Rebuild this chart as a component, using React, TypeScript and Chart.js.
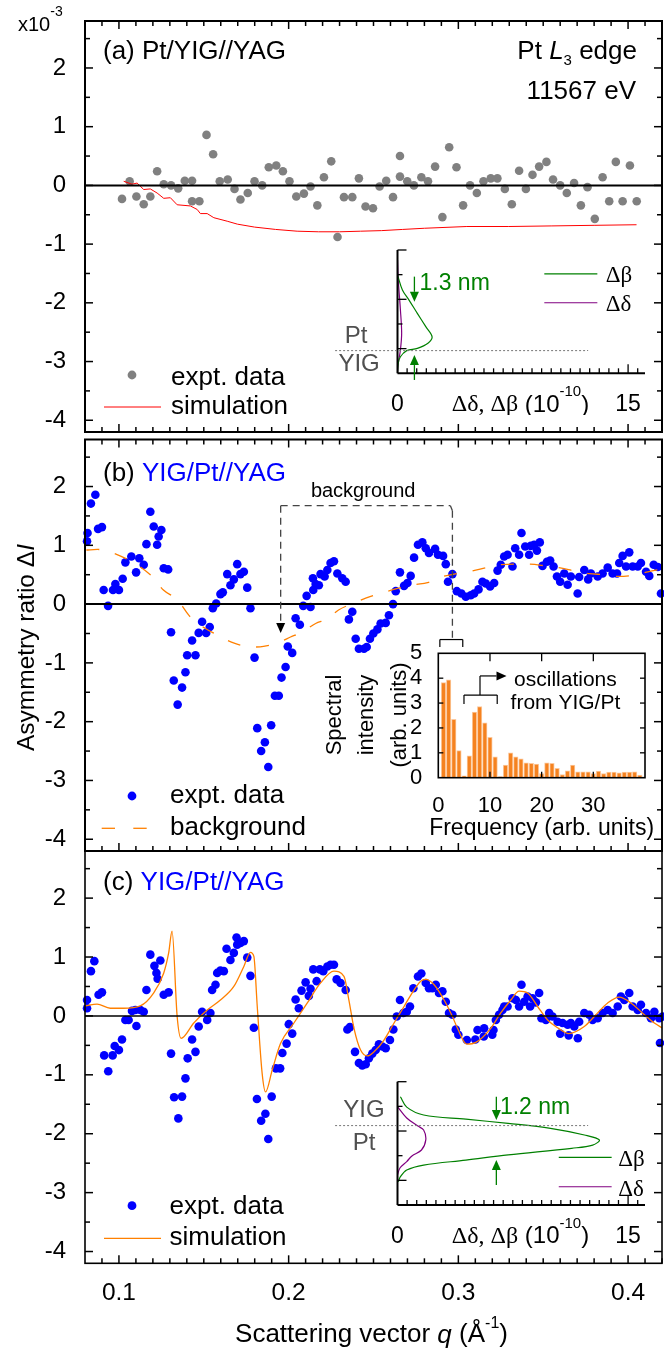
import React, { useEffect, useRef } from 'react';
import { Chart, registerables } from 'chart.js';

Chart.register(...registerables);

type Pt = [number, number];

const FONT = '"Liberation Sans", Arial, Helvetica, sans-serif';
const SERIF = '"Liberation Serif", "Times New Roman", serif';

const BLUE = '#0000ff';
const GREY = '#808080';
const RED = '#ff0000';
const ORANGE = '#ff8000';
const GREEN = '#008000';
const PURPLE = '#800080';
const LABEL_GREY = '#505050';
const BAR_FILL = '#f5821f';
const BAR_EDGE = '#fcc89c';

// ---------- main axes ----------
const Q_MIN = 0.08;
const Q_MAX = 0.42;
const DI_MIN = -4.2;
const DI_MAX = 2.8;
const Y_LABELS = [-4, -3, -2, -1, 0, 1, 2];
const Y_TICKS = [-4, -3.5, -3, -2.5, -2, -1.5, -1, -0.5, 0, 0.5, 1, 1.5, 2, 2.5];
const X_LABELS = [0.1, 0.2, 0.3, 0.4];
const X_TICK_FIRST = 9; // hundredths
const X_TICK_LAST = 42;

// ---------- (a) Pt/YIG//YAG (x10^-3) ----------
const A_EXPT: Pt[] = [
  [0.1018, -0.23], [0.1063, 0.07], [0.1103, -0.19], [0.1146, -0.32], [0.1185, -0.19], [0.1225, 0.24],
  [0.1264, 0.02], [0.1307, 0.0], [0.1349, -0.05], [0.1388, 0.08], [0.1431, 0.08], [0.1431, -0.27],
  [0.1474, -0.27], [0.1516, 0.86], [0.1555, 0.53], [0.1594, 0.07], [0.1641, 0.1], [0.1681, -0.06],
  [0.1716, -0.24], [0.1759, -0.13], [0.1799, 0.07], [0.1844, 0.0], [0.1883, 0.31], [0.1927, 0.34],
  [0.1966, 0.24], [0.2005, 0.07], [0.2045, -0.19], [0.209, -0.14], [0.2129, -0.02], [0.2169, -0.34],
  [0.2208, 0.14], [0.2251, 0.41], [0.2288, -0.88], [0.2326, -0.2], [0.2375, -0.2], [0.2414, 0.12],
  [0.2453, -0.36], [0.2497, -0.39], [0.2536, -0.02], [0.2575, 0.08], [0.2615, -0.2], [0.2656, 0.5],
  [0.2656, 0.15], [0.2699, 0.07], [0.2738, 0.0], [0.2782, 0.14], [0.2821, 0.07], [0.2863, 0.32],
  [0.2906, -0.54], [0.2946, 0.65], [0.2989, 0.31], [0.3028, -0.34], [0.3069, 0.0], [0.3109, -0.13],
  [0.3148, 0.07], [0.3191, 0.12], [0.323, 0.12], [0.3274, -0.06], [0.3315, -0.32], [0.3358, 0.25],
  [0.3398, -0.06], [0.3437, 0.18], [0.3476, 0.32], [0.3519, 0.4], [0.3558, 0.1], [0.36, 0.0],
  [0.3639, -0.13], [0.3682, 0.04], [0.3722, -0.34], [0.3761, -0.03], [0.3804, -0.57], [0.385, 0.14],
  [0.3889, -0.27], [0.3928, 0.4], [0.3968, -0.27], [0.4011, 0.34], [0.4051, -0.27],
];
const A_SIM: Pt[] = [
  [0.1028, 0.07], [0.1077, 0.02], [0.1107, 0.04], [0.1146, -0.07], [0.1185, -0.06], [0.1225, -0.13],
  [0.1264, -0.22], [0.1303, -0.21], [0.1343, -0.33], [0.1421, -0.35], [0.1461, -0.41], [0.148, -0.48],
  [0.152, -0.48], [0.1559, -0.55], [0.1638, -0.61], [0.1698, -0.66], [0.1799, -0.71], [0.1923, -0.75],
  [0.205, -0.78], [0.2176, -0.79], [0.23, -0.79], [0.2424, -0.78], [0.2548, -0.77], [0.2672, -0.75],
  [0.28, -0.73], [0.305, -0.7], [0.3297, -0.7], [0.3551, -0.69], [0.38, -0.68], [0.405, -0.67],
];

// ---------- (b) YIG/Pt//YAG ----------
const B_EXPT: Pt[] = [
  [0.0812, 1.07], [0.0815, 1.21], [0.0835, 1.71], [0.0861, 1.86], [0.0877, 1.28], [0.09, 1.31],
  [0.091, 0.24], [0.0936, -0.03], [0.0965, 0.24], [0.0979, 0.34], [0.1, 0.24], [0.1022, 0.43],
  [0.1038, 0.71], [0.1073, 0.81], [0.1101, 0.54], [0.112, 0.78], [0.1146, 0.67], [0.1162, 1.02],
  [0.1185, 1.57], [0.1205, 1.32], [0.1225, 1.01], [0.1234, 1.15], [0.125, 1.26], [0.1264, 0.61],
  [0.129, 0.59], [0.1307, -0.48], [0.1323, -1.3], [0.1346, -1.71], [0.1372, -1.42], [0.1392, -1.16],
  [0.1402, -0.87], [0.1431, -0.62], [0.1451, -0.87], [0.147, -0.49], [0.149, -0.3], [0.1514, -0.49],
  [0.1535, -0.39], [0.1553, -0.07], [0.1573, 0.01], [0.1598, 0.17], [0.1612, 0.2], [0.1638, 0.51],
  [0.1657, 0.32], [0.1677, 0.42], [0.1697, 0.68], [0.1716, 0.51], [0.1736, 0.55], [0.1756, 0.28],
  [0.1775, -0.07], [0.1799, -0.91], [0.1815, -2.11], [0.1838, -2.5], [0.186, -2.35], [0.188, -2.77],
  [0.1897, -2.06], [0.1919, -1.56], [0.1942, -1.56], [0.1958, -1.25], [0.1982, -1.07], [0.1995, -0.72],
  [0.2021, -0.83], [0.2041, -0.24], [0.2066, -0.35], [0.2086, -0.03], [0.2106, 0.14], [0.2129, -0.05],
  [0.2143, 0.44], [0.2145, 0.24], [0.2159, 0.34], [0.2178, 0.32], [0.2188, 0.51], [0.2212, 0.47],
  [0.2228, 0.58], [0.2247, 0.7], [0.2267, 0.73], [0.2287, 0.52], [0.2316, 0.44], [0.2336, 0.38],
  [0.2355, -0.26], [0.2375, -0.13], [0.2395, -0.59], [0.2414, -0.76], [0.2444, -0.76], [0.246, -0.73],
  [0.2479, -0.59], [0.2499, -0.5], [0.2523, -0.43], [0.2542, -0.33], [0.2572, -0.32], [0.2591, -0.19],
  [0.2615, 0.0], [0.2631, 0.22], [0.2656, 0.54], [0.268, 0.31], [0.27, 0.36], [0.2719, 0.48],
  [0.2739, 0.79], [0.2762, 1.01], [0.2788, 1.05], [0.2808, 0.95], [0.2827, 0.87], [0.2863, 0.94],
  [0.288, 0.84], [0.291, 0.82], [0.2926, 0.68], [0.2939, 0.38], [0.2965, 0.51], [0.2991, 0.22],
  [0.3018, 0.18], [0.3044, 0.125], [0.3073, 0.15], [0.3093, 0.18], [0.3119, 0.25], [0.3142, 0.38],
  [0.3162, 0.35], [0.3187, 0.3], [0.3211, 0.36], [0.3231, 0.57], [0.325, 0.67], [0.327, 0.81],
  [0.329, 0.84], [0.3319, 0.64], [0.3335, 0.95], [0.3358, 0.84], [0.3372, 1.21], [0.3394, 0.98],
  [0.3417, 0.84], [0.3427, 0.99], [0.3447, 1.01], [0.3463, 0.91], [0.348, 1.05], [0.3496, 0.65],
  [0.3522, 0.72], [0.3541, 0.74], [0.3561, 0.64], [0.3581, 0.47], [0.36, 0.38], [0.3624, 0.52],
  [0.3644, 0.33], [0.3663, 0.47], [0.3703, 0.18], [0.3712, 0.46], [0.3742, 0.58], [0.3765, 0.42],
  [0.3781, 0.52], [0.3821, 0.47], [0.385, 0.52], [0.388, 0.62], [0.3909, 0.52], [0.3935, 0.52],
  [0.3948, 0.7], [0.3968, 0.82], [0.3988, 0.64], [0.4007, 0.88], [0.4027, 0.64], [0.4057, 0.64],
  [0.4076, 0.7], [0.4106, 0.55], [0.4125, 0.48], [0.4151, 0.67], [0.4175, 0.63], [0.4194, 0.18],
];
const B_BACKGROUND: Pt[] = [
  [0.0808, 0.92], [0.0873, 0.93], [0.0967, 0.87], [0.1185, 0.5], [0.1262, 0.24], [0.1345, 0.07],
  [0.1421, -0.22], [0.1581, -0.53], [0.1675, -0.66], [0.1793, -0.73], [0.1852, -0.72], [0.1952, -0.64],
  [0.2011, -0.56], [0.2082, -0.47], [0.2159, -0.33], [0.2229, -0.25], [0.2294, -0.1], [0.2377, 0.01],
  [0.2454, 0.1], [0.256, 0.2], [0.2648, 0.27], [0.2719, 0.32], [0.2825, 0.37], [0.2908, 0.47],
  [0.2996, 0.52], [0.3073, 0.56], [0.3162, 0.62], [0.3239, 0.67], [0.3339, 0.68], [0.3415, 0.68],
  [0.3516, 0.65], [0.3592, 0.62], [0.3692, 0.56], [0.3769, 0.52], [0.3857, 0.5], [0.3946, 0.47],
  [0.4046, 0.5], [0.4117, 0.55], [0.4205, 0.6],
];

// ---------- (c) YIG/Pt//YAG ----------
const C_EXPT: Pt[] = [
  [0.0812, 0.27], [0.0812, 0.13], [0.0835, 0.76], [0.0855, 0.93], [0.088, 0.36], [0.09, 0.4],
  [0.0913, -0.67], [0.0937, -0.94], [0.0963, -0.67], [0.0975, -0.51], [0.1, -0.58], [0.1018, -0.4],
  [0.1038, -0.07], [0.1057, -0.07], [0.1077, 0.085], [0.1097, 0.1], [0.1103, -0.17], [0.1126, 0.1],
  [0.1146, 0.07], [0.1162, 0.44], [0.1185, 1.04], [0.1209, 0.85], [0.1221, 0.73], [0.1228, 0.63],
  [0.1244, 0.94], [0.1264, 0.36], [0.1293, 0.4], [0.1307, -0.64], [0.1325, -1.38], [0.135, -1.74],
  [0.1372, -1.37], [0.1392, -1.06], [0.1405, -0.72], [0.1431, -0.4], [0.1451, -0.61], [0.147, -0.18],
  [0.149, 0.07], [0.152, -0.07], [0.1539, 0.05], [0.1549, 0.44], [0.1569, 0.53], [0.1579, 0.73],
  [0.1598, 0.77], [0.1618, 0.76], [0.1634, 1.14], [0.1657, 0.95], [0.1677, 1.07], [0.1693, 1.33],
  [0.1697, 1.21], [0.1716, 1.24], [0.1736, 1.27], [0.1756, 0.99], [0.1775, 0.68], [0.1795, -0.2],
  [0.1813, -1.41], [0.1838, -1.78], [0.1863, -1.66], [0.188, -2.09], [0.19, -1.37], [0.1925, -0.89],
  [0.195, -0.89], [0.1963, -0.63], [0.1988, -0.47], [0.2001, -0.14], [0.2021, -0.3], [0.2041, 0.28],
  [0.206, 0.13], [0.2076, 0.43], [0.21, 0.57], [0.2119, 0.34], [0.2129, 0.46], [0.2145, 0.79],
  [0.2165, 0.59], [0.2184, 0.79], [0.2204, 0.76], [0.2228, 0.84], [0.2247, 0.87], [0.2267, 0.87],
  [0.2283, 0.62], [0.2306, 0.56], [0.2336, 0.44], [0.2346, -0.23], [0.2361, -0.19], [0.2391, -0.61],
  [0.2414, -0.8], [0.2434, -0.84], [0.2454, -0.82], [0.2473, -0.72], [0.2493, -0.64], [0.2513, -0.58],
  [0.2532, -0.48], [0.2552, -0.52], [0.2572, -0.55], [0.2597, -0.41], [0.2617, -0.23], [0.2637, -0.01],
  [0.2656, 0.27], [0.2676, 0.05], [0.2696, 0.07], [0.2715, 0.16], [0.2735, 0.47], [0.2762, 0.67],
  [0.2782, 0.72], [0.2808, 0.56], [0.2827, 0.47], [0.2847, 0.47], [0.2867, 0.53], [0.2886, 0.39],
  [0.2906, 0.42], [0.2926, 0.24], [0.2945, 0.05], [0.2965, 0.02], [0.2985, -0.23], [0.3, -0.32],
  [0.305, -0.41], [0.31, -0.4], [0.3113, -0.24], [0.315, -0.35], [0.3152, -0.21], [0.32, -0.32],
  [0.3207, -0.24], [0.3221, -0.07], [0.324, 0.02], [0.326, 0.1], [0.327, 0.16], [0.329, 0.16],
  [0.3319, 0.3], [0.3339, 0.27], [0.3358, 0.16], [0.3372, 0.53], [0.3388, 0.24], [0.3408, 0.33],
  [0.3423, 0.16], [0.3437, 0.3], [0.3457, 0.23], [0.3476, 0.39], [0.349, -0.04], [0.3516, -0.07],
  [0.3535, 0.05], [0.3555, -0.01], [0.3585, -0.1], [0.36, -0.3], [0.3614, -0.12], [0.3644, -0.15],
  [0.365, -0.33], [0.3663, -0.12], [0.3683, -0.18], [0.3704, -0.38], [0.3712, -0.1], [0.3742, 0.05],
  [0.3771, 0.02], [0.3791, -0.07], [0.3821, -0.04], [0.385, 0.05], [0.388, 0.1], [0.3909, 0.05],
  [0.3939, 0.16], [0.3958, 0.33], [0.3978, 0.27], [0.4007, 0.39], [0.4027, 0.16], [0.4057, 0.1],
  [0.4076, 0.19], [0.4106, 0.05], [0.4135, -0.04], [0.4155, 0.07], [0.4184, -0.04], [0.4188, -0.46],
  [0.4204, -0.01],
];
const C_SIM: Pt[] = [
  [0.0802, 0.17], [0.0871, 0.2], [0.0949, 0.13], [0.1028, 0.13], [0.1126, 0.17], [0.1205, 0.39],
  [0.1264, 0.73], [0.1293, 1.07], [0.1313, 1.44], [0.1343, -0.01], [0.1366, -0.38], [0.1441, -0.12],
  [0.152, 0.1], [0.1598, 0.27], [0.1677, 0.5], [0.1736, 0.84], [0.1775, 1.08], [0.1795, 1.01],
  [0.1815, 0.16], [0.1844, -0.98], [0.1864, -1.29], [0.1903, -0.92], [0.1952, -0.47], [0.2031, -0.12],
  [0.211, 0.22], [0.2188, 0.56], [0.2267, 0.76], [0.2326, 0.67], [0.2355, 0.27], [0.2385, -0.21],
  [0.2424, -0.58], [0.2464, -0.68], [0.2503, -0.61], [0.2562, -0.41], [0.2621, -0.12], [0.268, 0.16],
  [0.2719, 0.35], [0.2778, 0.59], [0.2808, 0.62], [0.2857, 0.53], [0.2916, 0.27], [0.2965, -0.01],
  [0.2995, -0.21], [0.305, -0.48], [0.3103, -0.45], [0.3191, -0.21], [0.325, 0.05], [0.3309, 0.27],
  [0.3358, 0.42], [0.3408, 0.39], [0.3467, 0.16], [0.3526, -0.07], [0.3585, -0.2], [0.365, -0.3],
  [0.3742, -0.18], [0.3801, -0.01], [0.388, 0.22], [0.3948, 0.32], [0.4017, 0.22], [0.4096, 0.02],
  [0.4155, -0.12], [0.4205, -0.21],
];

// ---------- inset (b): spectrum ----------
const FREQ = [1, 2, 3, 4, 5, 6, 7, 8, 9, 10, 11, 12, 13, 14, 15, 16, 17, 18, 19, 20, 21, 22, 23, 24, 25, 26, 27, 28, 29, 30, 31, 32, 33, 34, 35, 36, 37, 38, 39];
const SPECTRUM = [3.82, 3.93, 2.35, 1.09, 0.08, 0.88, 2.64, 2.86, 2.21, 1.62, 0.84, 0.04, 0.51, 1.0, 0.84, 0.76, 0.6, 0.58, 0.55, 0.17, 0.6, 0.58, 0.38, 0.13, 0.28, 0.51, 0.24, 0.24, 0.24, 0.17, 0.27, 0.17, 0.23, 0.23, 0.2, 0.23, 0.23, 0.24, 0.11];
const FREQ_MAX = 40;
const FREQ_LABELS = [0, 10, 20, 30];
const SPEC_MAX = 5;
const SPEC_LABELS = [0, 1, 2, 3, 4, 5];

// ---------- insets (a), (c): depth profiles (x: Δδ,Δβ in 1e-10; y: depth) ----------
const PROF_X_MAX = 16.1;
const PROF_X_LABELS = [0, 15];
const PROF_X_STEP = 0.625;
const PROF_Y_MAX = 5;
const A_BETA: Pt[] = [
  [0, 3.99], [0.32, 3.38], [0.75, 2.97], [1.29, 2.43], [1.84, 1.89], [2.25, 1.48], [1.98, 1.22],
  [1.29, 1.01], [0.6, 0.92], [0.19, 0.67], [0.05, 0.41], [0, 0],
];
const A_DELTA: Pt[] = [
  [0, 4.6], [0.05, 3.78], [0.19, 2.57], [0.27, 1.62], [0.19, 0.95], [0.05, 0.41], [0, 0],
];
const C_BETA: Pt[] = [
  [0.19, 4.39], [0.6, 3.97], [1.7, 3.65], [4.45, 3.48], [7.2, 3.31], [9.95, 3.11], [12.16, 2.84],
  [13.13, 2.64], [12.7, 2.43], [11.33, 2.3], [7.2, 2.03], [4.45, 1.82], [1.7, 1.62], [0.6, 1.42],
  [0.19, 1.15], [0.05, 0.94],
];
const C_DELTA: Pt[] = [
  [0, 3.99], [0.6, 3.53], [1.33, 3.2], [1.7, 3.04], [1.84, 2.64], [1.56, 2.23], [0.94, 1.99],
  [0.6, 1.76], [0.16, 1.5], [0, 1.22],
];

// ---------------- helpers ----------------
const toXY = (arr: Pt[]) => arr.map(([x, y]) => ({ x, y }));
const font = (size: number, italic = false, family = FONT) => `${italic ? 'italic ' : ''}${size}px ${family}`;

type Run = { t: string; c?: string; i?: boolean; s?: number; dy?: number; f?: string };

function runs(ctx: CanvasRenderingContext2D, parts: Run[], x: number, y: number, size: number, align: 'left' | 'right' | 'center' = 'left', color = '#000') {
  ctx.save();
  ctx.textBaseline = 'middle';
  ctx.textAlign = 'left';
  const ws = parts.map((p) => {
    ctx.font = font(p.s ?? size, p.i, p.f);
    return ctx.measureText(p.t).width;
  });
  const total = ws.reduce((a, b) => a + b, 0);
  let cx = align === 'left' ? x : align === 'right' ? x - total : x - total / 2;
  parts.forEach((p, k) => {
    ctx.font = font(p.s ?? size, p.i, p.f);
    ctx.fillStyle = p.c ?? color;
    ctx.fillText(p.t, cx, y + (p.dy ?? 0));
    cx += ws[k];
  });
  ctx.restore();
}

function seg(ctx: CanvasRenderingContext2D, x1: number, y1: number, x2: number, y2: number) {
  ctx.beginPath();
  ctx.moveTo(x1, y1);
  ctx.lineTo(x2, y2);
  ctx.stroke();
}

function vArrow(ctx: CanvasRenderingContext2D, x: number, yFrom: number, yTip: number, color: string) {
  const dir = Math.sign(yTip - yFrom);
  const hl = 10;
  const hw = 4.5;
  ctx.save();
  ctx.strokeStyle = color;
  ctx.fillStyle = color;
  ctx.lineWidth = 1.3;
  seg(ctx, x, yFrom, x, yTip - dir * hl);
  ctx.beginPath();
  ctx.moveTo(x, yTip);
  ctx.lineTo(x - hw, yTip - dir * hl);
  ctx.lineTo(x + hw, yTip - dir * hl);
  ctx.closePath();
  ctx.fill();
  ctx.restore();
}

function hArrow(ctx: CanvasRenderingContext2D, xFrom: number, xTip: number, y: number, color: string) {
  const hl = 10;
  const hw = 4.5;
  ctx.save();
  ctx.strokeStyle = color;
  ctx.fillStyle = color;
  ctx.lineWidth = 1.2;
  seg(ctx, xFrom, y, xTip - hl, y);
  ctx.beginPath();
  ctx.moveTo(xTip, y);
  ctx.lineTo(xTip - hl, y - hw);
  ctx.lineTo(xTip - hl, y + hw);
  ctx.closePath();
  ctx.fill();
  ctx.restore();
}

function mainFrame(chart: any, o: { top: boolean; bottom: boolean; lw: number; zlw: number }) {
  const { ctx, chartArea: ca } = chart;
  const xs = chart.scales.x;
  const ys = chart.scales.y;
  ctx.save();
  ctx.strokeStyle = '#000';
  ctx.lineWidth = o.zlw;
  const z = ys.getPixelForValue(0);
  seg(ctx, ca.left, z, ca.right, z);
  ctx.lineWidth = 1.5;
  Y_TICKS.forEach((v) => {
    const p = ys.getPixelForValue(v);
    const len = Number.isInteger(v) ? 8 : 5;
    seg(ctx, ca.left, p, ca.left + len, p);
    seg(ctx, ca.right, p, ca.right - len, p);
  });
  for (let k = X_TICK_FIRST; k <= X_TICK_LAST; k++) {
    const p = xs.getPixelForValue(k / 100);
    const len = k % 10 === 0 ? 8 : 5;
    if (o.top) seg(ctx, p, ca.top, p, ca.top + len);
    if (o.bottom) seg(ctx, p, ca.bottom, p, ca.bottom - len);
  }
  ctx.lineWidth = o.lw;
  ctx.strokeRect(ca.left, ca.top, ca.right - ca.left, ca.bottom - ca.top);
  ctx.restore();
}

function legendDot(ctx: CanvasRenderingContext2D, x: number, y: number, color: string) {
  ctx.save();
  ctx.fillStyle = color;
  ctx.beginPath();
  ctx.arc(x, y, 4.4, 0, Math.PI * 2);
  ctx.fill();
  ctx.restore();
}

function legendLine(ctx: CanvasRenderingContext2D, x1: number, x2: number, y: number, color: string, width: number, dash: number[] = []) {
  ctx.save();
  ctx.strokeStyle = color;
  ctx.lineWidth = width;
  ctx.setLineDash(dash);
  seg(ctx, x1, y, x2, y);
  ctx.restore();
}

function profileFrame(chart: any) {
  const { ctx, chartArea: ca } = chart;
  const xs = chart.scales.x;
  const ys = chart.scales.y;
  ctx.save();
  ctx.strokeStyle = '#000';
  ctx.lineWidth = 1.3;
  for (let v = 1; v <= PROF_Y_MAX; v++) {
    const p = ys.getPixelForValue(v);
    seg(ctx, ca.left, p, ca.left + (v % 2 === 1 ? 9 : 5), p);
  }
  for (let k = 1; k * PROF_X_STEP <= PROF_X_MAX; k++) {
    const v = k * PROF_X_STEP;
    const p = xs.getPixelForValue(v);
    const major = PROF_X_LABELS.some((l) => l > 0 && Math.abs(l - v) < 1e-6);
    seg(ctx, p, ca.bottom, p, ca.bottom - (major ? 9 : 5));
  }
  ctx.lineWidth = 2;
  seg(ctx, ca.left, ca.top, ca.left, ca.bottom);
  seg(ctx, ca.left, ca.bottom, ca.right, ca.bottom);
  ctx.restore();
}

// ---------------- configs ----------------
const baseOptions = {
  animation: false,
  responsive: false,
  devicePixelRatio: 1,
  events: [],
  plugins: { legend: { display: false }, tooltip: { enabled: false } },
};

function mainConfig(datasets: any[], pad: { top: number; bottom: number }, xAxis: boolean, draw: (c: any) => void): any {
  return {
    type: 'scatter',
    data: { datasets },
    options: {
      ...baseOptions,
      layout: { autoPadding: false, padding: { left: 0, right: 2, top: pad.top, bottom: pad.bottom } },
      scales: {
        x: {
          type: 'linear',
          min: Q_MIN,
          max: Q_MAX,
          display: xAxis,
          afterFit: (s: any) => {
            if (xAxis) { s.height = 87.7; s.paddingLeft = 0; s.paddingRight = 0; }
          },
          afterBuildTicks: (s: any) => { s.ticks = X_LABELS.map((v) => ({ value: v })); },
          ticks: {
            autoSkip: false, maxRotation: 0, minRotation: 0, padding: 7.3, color: '#000',
            font: { family: FONT, size: 24.5 },
            callback: (v: any) => Number(v).toFixed(1),
          },
          grid: { display: false },
          border: { display: false },
        },
        y: {
          type: 'linear',
          min: DI_MIN,
          max: DI_MAX,
          afterFit: (s: any) => { s.width = 85; s.paddingTop = 0; s.paddingBottom = 0; },
          afterBuildTicks: (s: any) => { s.ticks = Y_LABELS.map((v) => ({ value: v })); },
          ticks: {
            autoSkip: false, padding: 11, color: '#000',
            font: { family: FONT, size: 24 },
            callback: (v: any) => String(v),
          },
          grid: { display: false },
          border: { display: false },
        },
      },
    },
    plugins: [{ id: 'deco', afterDraw: draw }],
  };
}

const dotSet = (data: Pt[], color: string) => ({
  data: toXY(data), backgroundColor: color, borderWidth: 0, pointRadius: 4.3, pointHoverRadius: 4.3, showLine: false, clip: false,
});
const lineSet = (data: Pt[], color: string, width: number, extra: any = {}) => ({
  data: toXY(data), borderColor: color, borderWidth: width, pointRadius: 0, showLine: true, fill: false, ...extra,
});

function profileConfig(datasets: any[], padTop: number, xAxisHeight: number, draw: (c: any) => void): any {
  return {
    type: 'scatter',
    data: { datasets },
    options: {
      ...baseOptions,
      layout: { autoPadding: false, padding: { left: 77.5, right: 19, top: padTop, bottom: 0 } },
      scales: {
        x: {
          type: 'linear', min: 0, max: PROF_X_MAX,
          afterFit: (s: any) => { s.height = xAxisHeight; s.paddingLeft = 0; s.paddingRight = 0; },
          afterBuildTicks: (s: any) => { s.ticks = PROF_X_LABELS.map((v) => ({ value: v })); },
          ticks: { autoSkip: false, maxRotation: 0, minRotation: 0, padding: 9.5, color: '#000', font: { family: FONT, size: 23 } },
          grid: { display: false },
          border: { display: false },
        },
        y: { type: 'linear', min: 0, max: PROF_Y_MAX, display: false },
      },
    },
    plugins: [{ id: 'deco', afterDraw: draw }],
  };
}

// ---------------- decorations ----------------
function drawA(chart: any) {
  const { ctx, chartArea: ca } = chart;
  mainFrame(chart, { top: true, bottom: true, lw: 2, zlw: 2 });
  runs(ctx, [{ t: '(a) Pt/YIG//YAG' }], ca.left + 18, ca.top + 31, 26);
  runs(ctx, [{ t: 'Pt ' }, { t: 'L', i: true }, { t: '3', s: 15, dy: 9 }, { t: ' edge' }], ca.right - 25, ca.top + 31, 26, 'right');
  runs(ctx, [{ t: '11567 eV' }], ca.right - 26, ca.top + 71, 26, 'right');
  runs(ctx, [{ t: 'x10', s: 20 }, { t: '-3', s: 14, dy: -13 }], 18, 25, 20);
  legendDot(ctx, 132, ca.bottom - 57, GREY);
  runs(ctx, [{ t: 'expt. data' }], 171, ca.bottom - 54, 26);
  legendLine(ctx, 104, 161, ca.bottom - 25, RED, 1);
  runs(ctx, [{ t: 'simulation' }], 171, ca.bottom - 25, 26);
}

function drawB(chart: any) {
  const { ctx, chartArea: ca } = chart;
  const xs = chart.scales.x;
  const ys = chart.scales.y;
  const X = (v: number) => xs.getPixelForValue(v);
  const Y = (v: number) => ys.getPixelForValue(v);
  mainFrame(chart, { top: true, bottom: true, lw: 2, zlw: 2 });
  runs(ctx, [{ t: '(b) ' }, { t: 'YIG/Pt//YAG', c: BLUE }], ca.left + 18, ca.top + 34, 26);

  // y-axis title
  ctx.save();
  ctx.translate(27, ca.top + 208);
  ctx.rotate(-Math.PI / 2);
  runs(ctx, [{ t: 'Asymmetry ratio Δ' }, { t: 'I', i: true }], 0, 0, 24.5, 'center');
  ctx.restore();

  // "background" dashed box
  ctx.save();
  ctx.strokeStyle = '#444';
  ctx.lineWidth = 1.3;
  ctx.setLineDash([7, 5]);
  const xl = X(0.1953);
  const xr = X(0.2965);
  const yt = Y(1.675);
  seg(ctx, xl, yt, xl, Y(-0.49) - 10);
  seg(ctx, xl, yt, xr - 2, yt);
  ctx.setLineDash([]);
  seg(ctx, xr - 2, yt, xr, yt + 5);
  ctx.setLineDash([7, 5]);
  seg(ctx, xr, yt + 5, xr, Y(-0.603));
  ctx.restore();
  vArrow(ctx, xl, Y(-0.49) - 10, Y(-0.49), '#000');
  ctx.save();
  ctx.strokeStyle = '#000';
  ctx.lineWidth = 1.2;
  seg(ctx, X(0.2891), Y(-0.603), X(0.3026), Y(-0.603));
  seg(ctx, X(0.2891), Y(-0.603), X(0.2891), Y(-0.73));
  seg(ctx, X(0.3026), Y(-0.603), X(0.3026), Y(-0.73));
  ctx.restore();
  runs(ctx, [{ t: 'background' }], X(0.2131), Y(1.92), 20);

  // legend
  legendDot(ctx, 132, ca.bottom - 55, BLUE);
  runs(ctx, [{ t: 'expt. data' }], 170, ca.bottom - 55, 26);
  legendLine(ctx, 101.7, 115, ca.bottom - 22.7, ORANGE, 1.3);
  legendLine(ctx, 133.3, 146.7, ca.bottom - 22.7, ORANGE, 1.3);
  runs(ctx, [{ t: 'background' }], 170, ca.bottom - 23, 26);
}

function drawC(chart: any) {
  const { ctx, chartArea: ca } = chart;
  mainFrame(chart, { top: false, bottom: true, lw: 1.6, zlw: 1.5 });
  runs(ctx, [{ t: '(c) ' }, { t: 'YIG/Pt//YAG', c: BLUE }], ca.left + 18, ca.top + 32, 26);
  runs(
    ctx,
    [{ t: 'Scattering vector ' }, { t: 'q', i: true }, { t: ' (Å' }, { t: '-1', s: 16, dy: -12 }, { t: ')' }],
    (ca.left + ca.right) / 2 - 2, ca.bottom + 72, 26, 'center',
  );
  legendDot(ctx, 132, ca.bottom - 57.6, BLUE);
  runs(ctx, [{ t: 'expt. data' }], 169.5, ca.bottom - 56.6, 26);
  legendLine(ctx, 104, 161, ca.bottom - 25, ORANGE, 1.3);
  runs(ctx, [{ t: 'simulation' }], 169.5, ca.bottom - 25, 26);
}

function profileTitle(chart: any) {
  const { ctx, chartArea: ca } = chart;
  const X = (v: number) => chart.scales.x.getPixelForValue(v);
  runs(ctx, [{ t: 'Δδ, Δβ', f: SERIF }, { t: ' (10' }, { t: '-10', s: 15, dy: -13 }, { t: ')' }], X(8.0), ca.bottom + 31.7, 24, 'center');
}

function drawIA(chart: any) {
  const { ctx } = chart;
  const X = (v: number) => chart.scales.x.getPixelForValue(v);
  const Y = (v: number) => chart.scales.y.getPixelForValue(v);
  profileFrame(chart);
  ctx.save();
  ctx.strokeStyle = '#777';
  ctx.lineWidth = 1;
  ctx.setLineDash([2, 2]);
  seg(ctx, X(-4.06), Y(0.92), X(12.4), Y(0.92));
  ctx.restore();
  runs(ctx, [{ t: 'Pt' }], X(-2.7), Y(1.48), 24, 'center', LABEL_GREY);
  runs(ctx, [{ t: 'YIG' }], X(-2.5), Y(0.38), 24, 'center', LABEL_GREY);
  vArrow(ctx, X(1.1), Y(3.92), Y(2.9), GREEN);
  vArrow(ctx, X(1.1), Y(-0.27), Y(0.74), GREEN);
  runs(ctx, [{ t: '1.3 nm' }], X(1.43), Y(3.65), 23, 'left', GREEN);
  legendLine(ctx, X(9.55), X(13.0), Y(4.03), GREEN, 1.2);
  runs(ctx, [{ t: 'Δβ', f: SERIF }], X(13.55), Y(3.93), 23);
  legendLine(ctx, X(9.55), X(13.0), Y(2.86), PURPLE, 1.2);
  runs(ctx, [{ t: 'Δδ', f: SERIF }], X(13.55), Y(2.76), 23);
  profileTitle(chart);
}

function drawIC(chart: any) {
  const { ctx } = chart;
  const X = (v: number) => chart.scales.x.getPixelForValue(v);
  const Y = (v: number) => chart.scales.y.getPixelForValue(v);
  profileFrame(chart);
  ctx.save();
  ctx.strokeStyle = '#777';
  ctx.lineWidth = 1;
  ctx.setLineDash([2, 2]);
  seg(ctx, X(-4.06), Y(3.22), X(12.4), Y(3.22));
  ctx.restore();
  runs(ctx, [{ t: 'YIG' }], X(-2.18), Y(3.85), 24, 'center', LABEL_GREY);
  runs(ctx, [{ t: 'Pt' }], X(-2.18), Y(2.5), 24, 'center', LABEL_GREY);
  vArrow(ctx, X(6.43), Y(4.39), Y(3.45), GREEN);
  vArrow(ctx, X(6.43), Y(0.81), Y(1.82), GREEN);
  runs(ctx, [{ t: '1.2 nm' }], X(6.66), Y(3.96), 23, 'left', GREEN);
  legendLine(ctx, X(10.49), X(13.93), Y(1.93), GREEN, 1.2);
  runs(ctx, [{ t: 'Δβ', f: SERIF }], X(14.36), Y(1.82), 23);
  legendLine(ctx, X(10.49), X(13.93), Y(0.74), PURPLE, 1.2);
  runs(ctx, [{ t: 'Δδ', f: SERIF }], X(14.36), Y(0.61), 23);
  profileTitle(chart);
}

function drawIB(chart: any) {
  const { ctx, chartArea: ca } = chart;
  const X = (v: number) => chart.scales.x.getPixelForValue(v);
  const Y = (v: number) => chart.scales.y.getPixelForValue(v);
  ctx.save();
  ctx.strokeStyle = '#000';
  ctx.lineWidth = 1.3;
  for (let v = 1; v < SPEC_MAX; v++) {
    const p = Y(v);
    seg(ctx, ca.left, p, ca.left + 5, p);
    seg(ctx, ca.right, p, ca.right - 5, p);
  }
  FREQ_LABELS.forEach((v) => {
    if (v <= 0) return;
    const p = X(v);
    seg(ctx, p, ca.top, p, ca.top + 8);
    seg(ctx, p, ca.bottom, p, ca.bottom - 6);
  });
  ctx.lineWidth = 1.6;
  ctx.strokeRect(ca.left, ca.top, ca.right - ca.left, ca.bottom - ca.top);
  // bracket + arrow
  ctx.lineWidth = 1.2;
  seg(ctx, X(4.97), Y(2.96), X(4.97), Y(3.32));
  seg(ctx, X(4.97), Y(3.32), X(11.4), Y(3.32));
  seg(ctx, X(11.4), Y(3.32), X(11.4), Y(2.96));
  seg(ctx, X(8.07), Y(3.32), X(8.07), Y(4.09));
  ctx.restore();
  hArrow(ctx, X(8.07), X(13.2), Y(4.09), '#000');
  runs(ctx, [{ t: 'oscillations' }], X(24.6), Y(3.93), 21, 'center');
  runs(ctx, [{ t: 'from YIG/Pt' }], X(24.6), Y(2.99), 21, 'center');
  // y title
  const yMid = ca.top + 61.7;
  [['Spectral', -103.3], ['intensity', -71.3], ['(arb. units)', -38.3]].forEach(([t, dx]) => {
    ctx.save();
    ctx.translate(ca.left + (dx as number), yMid);
    ctx.rotate(-Math.PI / 2);
    runs(ctx, [{ t: t as string }], 0, 0, 22, 'center');
    ctx.restore();
  });
  runs(ctx, [{ t: 'Frequency (arb. units)' }], (ca.left + ca.right) / 2, ca.bottom + 50.6, 23, 'center');
}

export default function App() {
  const refA = useRef<HTMLCanvasElement | null>(null);
  const refB = useRef<HTMLCanvasElement | null>(null);
  const refC = useRef<HTMLCanvasElement | null>(null);
  const refIA = useRef<HTMLCanvasElement | null>(null);
  const refIB = useRef<HTMLCanvasElement | null>(null);
  const refIC = useRef<HTMLCanvasElement | null>(null);

  useEffect(() => {
    const charts: Chart[] = [];
    charts.push(new Chart(refA.current as HTMLCanvasElement, mainConfig(
      [lineSet(A_SIM, RED, 1), dotSet(A_EXPT, GREY)],
      { top: 21, bottom: 4 }, false, drawA,
    )));
    charts.push(new Chart(refB.current as HTMLCanvasElement, mainConfig(
      [lineSet(B_BACKGROUND, ORANGE, 1.3, { borderDash: [13, 16], cubicInterpolationMode: 'monotone' }), dotSet(B_EXPT, BLUE)],
      { top: 3.5, bottom: 5 }, false, drawB,
    )));
    charts.push(new Chart(refC.current as HTMLCanvasElement, mainConfig(
      [lineSet(C_SIM, ORANGE, 1.3, { cubicInterpolationMode: 'monotone' }), dotSet(C_EXPT, BLUE)],
      { top: 5, bottom: 0 }, true, drawC,
    )));
    charts.push(new Chart(refIA.current as HTMLCanvasElement, profileConfig(
      [lineSet(A_BETA, GREEN, 1.2, { tension: 0.35 }), lineSet(A_DELTA, PURPLE, 1.2, { tension: 0.35 })],
      10, 41.7, drawIA,
    )));
    charts.push(new Chart(refIC.current as HTMLCanvasElement, profileConfig(
      [lineSet(C_BETA, GREEN, 1.2, { tension: 0.35 }), lineSet(C_DELTA, PURPLE, 1.2, { tension: 0.35 })],
      11.7, 45, drawIC,
    )));
    charts.push(new Chart(refIB.current as HTMLCanvasElement, {
      type: 'bar',
      data: {
        datasets: [{
          data: FREQ.map((f, i) => ({ x: f, y: SPECTRUM[i] })),
          backgroundColor: BAR_FILL,
          borderColor: BAR_EDGE,
          borderWidth: 1,
          barThickness: 4.5,
        }],
      },
      options: {
        ...baseOptions,
        layout: { autoPadding: false, padding: { left: 0, right: 19, top: 13.3, bottom: 0 } },
        scales: {
          x: {
            type: 'linear', min: 0, max: FREQ_MAX, offset: false,
            afterFit: (s: any) => { s.height = 62.3; s.paddingLeft = 0; s.paddingRight = 0; },
            afterBuildTicks: (s: any) => { s.ticks = FREQ_LABELS.map((v) => ({ value: v })); },
            ticks: { autoSkip: false, maxRotation: 0, minRotation: 0, padding: 7.4, color: '#000', font: { family: FONT, size: 22 } },
            grid: { display: false },
            border: { display: false },
          },
          y: {
            type: 'linear', min: 0, max: SPEC_MAX,
            afterFit: (s: any) => { s.width = 138.3; s.paddingTop = 0; s.paddingBottom = 0; },
            afterBuildTicks: (s: any) => { s.ticks = SPEC_LABELS.map((v) => ({ value: v })); },
            ticks: { autoSkip: false, padding: 8, color: '#000', font: { family: FONT, size: 22 } },
            grid: { display: false },
            border: { display: false },
          },
        },
      },
      plugins: [{ id: 'deco', afterDraw: drawIB }],
    } as any));
    return () => charts.forEach((c) => c.destroy());
  }, []);

  const at = (left: number, top: number): React.CSSProperties => ({ position: 'absolute', left, top });

  return (
    <div style={{ position: 'absolute', left: 0, top: 0, width: 664, height: 1351, background: '#fff', overflow: 'hidden' }}>
      <canvas ref={refA} width={664} height={436} style={at(0, 0)} />
      <canvas ref={refB} width={664} height={420} style={at(0, 436)} />
      <canvas ref={refC} width={664} height={505} style={at(0, 846)} />
      <canvas ref={refIA} width={344} height={175} style={at(320, 240)} />
      <canvas ref={refIB} width={364} height={200} style={at(300, 640)} />
      <canvas ref={refIC} width={344} height={180} style={at(320, 1070)} />
    </div>
  );
}
